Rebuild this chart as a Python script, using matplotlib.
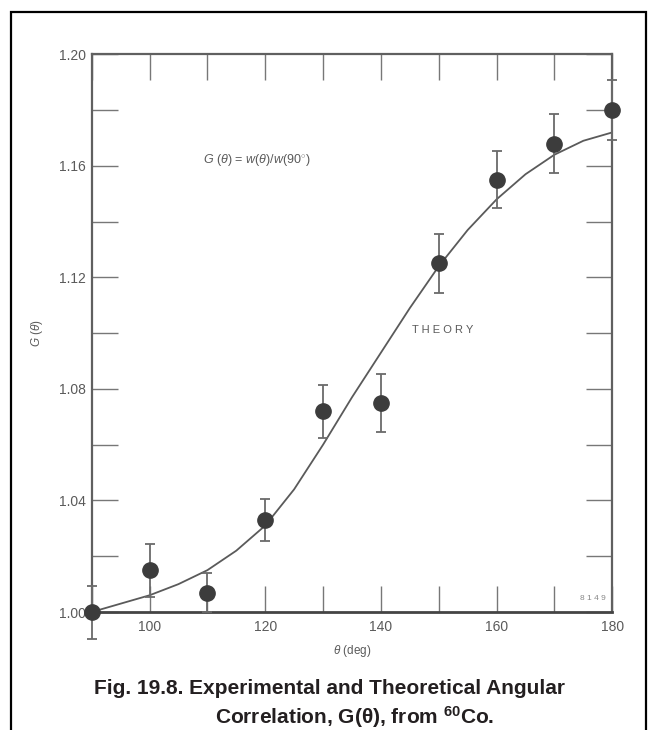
import matplotlib
matplotlib.use("Agg")
import matplotlib.pyplot as plt
from matplotlib.patches import Rectangle

plt.rcParams['font.family'] = ['Liberation Sans', 'DejaVu Sans']
plt.rcParams['mathtext.fontset'] = 'custom'
plt.rcParams['mathtext.rm'] = 'Liberation Sans'
plt.rcParams['mathtext.bf'] = 'Liberation Sans:bold'
plt.rcParams['mathtext.it'] = 'Liberation Sans:italic'

# measured points
theta = [90, 100, 110, 120, 130, 140, 150, 160, 170, 180]
g_exp = [1.000, 1.015, 1.007, 1.033, 1.072, 1.075, 1.125, 1.155, 1.168, 1.180]
g_err = [0.0095, 0.0095, 0.007, 0.0077, 0.0095, 0.0105, 0.0105, 0.0102, 0.0105, 0.0107]

# theory curve, read every 5 deg
theta_th = [90, 95, 100, 105, 110, 115, 120, 125, 130, 135, 140,
            145, 150, 155, 160, 165, 170, 175, 180]
g_th = [1.000, 1.003, 1.006, 1.010, 1.015, 1.022, 1.031, 1.044, 1.060, 1.077, 1.093,
        1.109, 1.124, 1.137, 1.148, 1.157, 1.164, 1.169, 1.172]

xticks = [90, 100, 110, 120, 130, 140, 150, 160, 170, 180]
xlabels = ['', '100', '', '120', '', '140', '', '160', '', '180']
yticks = [1.00, 1.02, 1.04, 1.06, 1.08, 1.10, 1.12, 1.14, 1.16, 1.18, 1.20]
ylabels = ['1.00', '', '1.04', '', '1.08', '', '1.12', '', '1.16', '', '1.20']

gray = '#5a5a5a'
dark = '#3c3c3c'

fig = plt.figure(figsize=(6.5, 7.3), dpi=100)
ax = fig.add_axes([0.141, 0.1616, 0.801, 0.764])

ax.plot(theta_th, g_th, color=gray, lw=1.3, zorder=2)
ax.errorbar(theta, g_exp, yerr=g_err, fmt='o', ms=11, color=dark,
            ecolor='#6a6a6a', elinewidth=1.3, capsize=3.5, capthick=1.3,
            zorder=3, clip_on=False)

ax.set_xlim(90, 180)
ax.set_ylim(1.00, 1.20)
ax.set_xticks(xticks)
ax.set_xticklabels(xlabels)
ax.set_yticks(yticks)
ax.set_yticklabels(ylabels)
ax.tick_params(direction='in', length=19, width=1, color='#777777',
               top=True, right=True, labelsize=10, labelcolor=gray)
ax.tick_params(axis='x', pad=6)
ax.tick_params(axis='y', pad=4)
for s in ax.spines.values():
    s.set_color('#606060')
    s.set_linewidth(1.6)
ax.spines['bottom'].set_linewidth(2.0)
ax.spines['bottom'].set_color('#444444')

ax.set_xlabel(r'$\it{\theta}$ (deg)', fontsize=8.5, color=gray, labelpad=6)
ax.set_ylabel(r'$\it{G}$ ($\it{\theta}$)', fontsize=8.5, color=gray, labelpad=10)

ax.text(109.3, 1.162, r'$\it{G}$ ($\it{\theta}$) = $\it{w}$($\it{\theta}$)/$\it{w}$(90$^{\circ}$)',
        fontsize=9, color=gray, va='center')
ax.text(145.4, 1.101, 'T H E O R Y', fontsize=8, color=gray, va='center')
ax.text(174.5, 1.005, '8 1 4 9', fontsize=6, color='#888888', va='center')

fig.text(329 / 650, 1 - 689 / 730, 'Fig. 19.8. Experimental and Theoretical Angular',
         fontsize=15, fontweight='bold', color='#231f20', ha='center', va='center')
fig.text(355 / 650, 1 - 717 / 730, r'Correlation, G(θ), from $\mathbf{^{60}}$Co.',
         fontsize=15, fontweight='bold', color='#231f20', ha='center', va='center')

fig.patches.append(Rectangle((11 / 650, -0.05), (646 - 11) / 650, 1.05 - 12 / 730,
                             transform=fig.transFigure, fill=False,
                             edgecolor='black', lw=1.6))

fig.savefig('out.png', dpi=100)
